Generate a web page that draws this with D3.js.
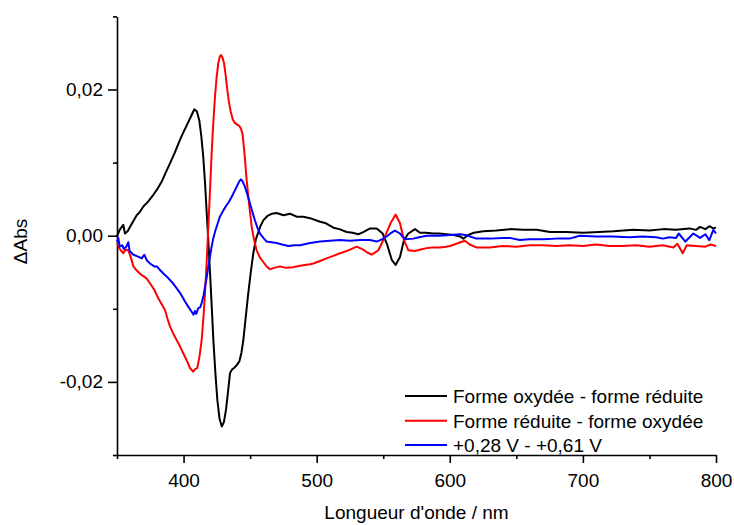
<!DOCTYPE html>
<html>
<head>
<meta charset="utf-8">
<script src="https://cdn.jsdelivr.net/npm/d3@7/dist/d3.min.js"></script>
<style>
  html, body { margin: 0; padding: 0; background: #fff; }
  svg { display: block; font-family: "Liberation Sans", Arial, sans-serif; }
</style>
</head>
<body>
<svg id="chart" width="734" height="525"></svg>
<script>
// ---------- DATA ----------
const seriesNames = ["Forme oxydée - forme réduite", "Forme réduite - forme oxydée", "+0,28 V - +0,61 V"];
const seriesColors = ["#000000", "#ff0000", "#0000ff"];

const blackNm = [350,352,354.7,356,358,361,364.8,367,369.8,373,377.3,380,383.6,386.5,389.8,393.5,397.3,400,402.4,405,408.1,410,411.8,413.3,414.8,416.2,417.4,418.7,419.9,421.2,422.4,424,425.4,427,428.7,430.3,431.9,433.5,434.9,436.4,437.9,440,441.9,443.5,444.9,446.8,448.6,450.5,452.4,454.3,456.2,458,459.9,463,466.2,470,475,480,485,490,495,502.6,507,512.6,517,522.6,527,531.3,535,540.1,545.1,549.6,553.1,556.4,559.3,562.6,565.6,568.9,573.9,577.6,582,587.6,592,597.6,603,607.7,610.2,614,618,625.3,635,645.3,655,665.3,675.3,687.8,700.3,712,722.9,737.9,750,760.5,770,780,785,788,792,795,798,800];
const blackVal = [-0.0001,0.0008,0.0015,0.0003,0.0006,0.0016,0.0028,0.0032,0.0040,0.0046,0.0056,0.0063,0.0074,0.0086,0.0099,0.0114,0.0131,0.0142,0.0151,0.0161,0.0173,0.0170,0.0158,0.0137,0.0108,0.0070,0.0031,-0.0010,-0.0051,-0.0098,-0.0143,-0.0190,-0.0225,-0.0250,-0.0261,-0.0255,-0.0238,-0.0212,-0.0188,-0.0183,-0.0181,-0.0177,-0.0172,-0.0160,-0.0143,-0.0110,-0.0079,-0.0050,-0.0024,-0.0005,0.0005,0.0014,0.0021,0.0027,0.0030,0.0031,0.0028,0.0030,0.0026,0.0026,0.0024,0.0019,0.0017,0.0011,0.0009,0.0005,0.0004,0.0002,0.0005,0.0010,0.0010,0.0003,-0.0013,-0.0033,-0.0040,-0.0029,-0.0006,0.0003,0.0009,0.0004,0.0004,0.0003,0.0003,0.0002,0.0001,-0.0001,-0.0004,0.0001,0.0004,0.0006,0.0007,0.0009,0.0008,0.0008,0.0005,0.0005,0.0004,0.0005,0.0006,0.0008,0.0007,0.0009,0.0008,0.0010,0.0008,0.0012,0.0009,0.0013,0.0010,0.0011];

const redNm = [350,352,354.7,356.5,358.5,360.5,362.3,365,368.6,372,374.8,378,381.1,384,386.1,388,389.8,392,394.9,397.5,399.8,402.5,404.8,407.3,408.5,410.3,412,413.6,415,416.1,417.4,418.6,419.9,421.1,422.3,423.6,424.8,426.1,427.2,428.1,429.2,430.4,431.6,432.9,434.1,435.4,437,438.7,440.3,441.9,443.2,444.4,445.9,447.4,449.3,451.2,453,454.9,457.4,459.9,462.4,464.9,468,472.4,477,482.4,487.5,491,495,497.5,502,507.5,512,517.5,521,525,530,535,538,541.3,546.3,548.5,551.3,555.5,559.3,562.6,565.6,568.9,573.9,578,582.6,587,592.6,597,600.2,605,608,611.4,615,619.9,630,640,650,660,670,680,690,700,710,720,730,740,750,760,768,771,775,778,785,792,796,800];
const redVal = [-0.0010,-0.0018,-0.0024,-0.0019,-0.0020,-0.0030,-0.0042,-0.0048,-0.0054,-0.0058,-0.0065,-0.0074,-0.0086,-0.0095,-0.0102,-0.0114,-0.0124,-0.0133,-0.0143,-0.0152,-0.0161,-0.0171,-0.0181,-0.0186,-0.0183,-0.0181,-0.0165,-0.0143,-0.0110,-0.0079,-0.0035,0.0012,0.0063,0.0113,0.0153,0.0190,0.0216,0.0236,0.0245,0.0247,0.0244,0.0236,0.0220,0.0199,0.0183,0.0170,0.0159,0.0154,0.0152,0.0150,0.0146,0.0138,0.0110,0.0076,0.0042,0.0012,-0.0006,-0.0020,-0.0030,-0.0036,-0.0042,-0.0046,-0.0044,-0.0042,-0.0044,-0.0043,-0.0041,-0.0040,-0.0039,-0.0038,-0.0035,-0.0031,-0.0028,-0.0024,-0.0022,-0.0019,-0.0015,-0.0019,-0.0023,-0.0026,-0.0020,-0.0012,-0.0001,0.0017,0.0029,0.0017,-0.0006,-0.0020,-0.0021,-0.0019,-0.0017,-0.0016,-0.0016,-0.0015,-0.0014,-0.0011,-0.0009,-0.0007,-0.0012,-0.0016,-0.0016,-0.0014,-0.0015,-0.0013,-0.0013,-0.0014,-0.0013,-0.0014,-0.0012,-0.0014,-0.0014,-0.0013,-0.0015,-0.0013,-0.0016,-0.0011,-0.0024,-0.0013,-0.0014,-0.0015,-0.0012,-0.0014];

const blueNm = [350,351,352,354,355,357,358.5,359.5,362.3,365,368.6,370.5,372.5,374.8,378,380,382.3,385,388.5,391.5,394.9,398,401.1,403.5,406.1,407.5,408.6,409.5,411.1,412.5,413.6,415,416.1,417.4,418.6,419.9,421.1,422.3,423.6,425.5,427.3,430,432.4,434,436.1,438,439.9,441.5,442.9,444.2,446.1,448,449.9,451.8,453.6,455.5,457.4,460,462.4,466,469.9,474,478.7,483,487.5,495,502.6,510,517.5,525,532.6,540,545.1,549,552.6,556,558.8,562.6,566.3,572.6,577,582.6,592.6,600.2,607.7,612,619.9,630,640,645,652.6,660,670,680,690,697.8,710,722,735,745,755,760,765,770,772,777,783,788,792,795,798,800];
const blueVal = [-0.0008,-0.0003,-0.0015,-0.0013,-0.0018,-0.0015,-0.0009,-0.0021,-0.0026,-0.0028,-0.0031,-0.0026,-0.0034,-0.0038,-0.0042,-0.0042,-0.0047,-0.0052,-0.0058,-0.0064,-0.0072,-0.0080,-0.0090,-0.0097,-0.0104,-0.0108,-0.0103,-0.0107,-0.0099,-0.0098,-0.0092,-0.0082,-0.0070,-0.0057,-0.0042,-0.0028,-0.0015,-0.0004,0.0005,0.0016,0.0026,0.0035,0.0042,0.0046,0.0053,0.0060,0.0067,0.0073,0.0077,0.0075,0.0067,0.0056,0.0044,0.0032,0.0021,0.0011,0.0003,-0.0003,-0.0008,-0.0009,-0.0010,-0.0012,-0.0014,-0.0013,-0.0013,-0.0010,-0.0008,-0.0007,-0.0006,-0.0007,-0.0006,-0.0006,-0.0008,-0.0005,-0.0001,0.0004,0.0007,0.0003,-0.0005,-0.0004,-0.0002,0.0000,0.0000,0.0001,0.0002,0.0001,-0.0004,-0.0004,-0.0003,-0.0003,-0.0006,-0.0005,-0.0005,-0.0004,-0.0004,0.0000,-0.0001,-0.0001,-0.0002,-0.0001,-0.0002,-0.0004,-0.0002,-0.0003,0.0003,-0.0008,0.0003,-0.0003,0.0002,-0.0006,0.0008,0.0003];

const xMajorTicks = [400, 500, 600, 700, 800];
const xMinorTicks = [350, 450, 550, 650, 750];
const yMajorTicks = [-0.02, 0.00, 0.02];
const yMinorTicks = [-0.03, -0.01, 0.01, 0.03];
const xTitle = "Longueur d'onde / nm";
const yTitle = "ΔAbs";

// ---------- LAYOUT ----------
const W = 734, H = 525;
const margin = {left: 117, right: 18, top: 16.4, bottom: 70};
const svg = d3.select("#chart");

const x = d3.scaleLinear().domain([350, 800]).range([margin.left, W - margin.right]);
const y = d3.scaleLinear().domain([-0.03, 0.03]).range([H - margin.bottom, margin.top]);

const fmt = d => (d < 0 ? "-" : "") + Math.abs(d).toFixed(2).replace(".", ",");

// Y axis
const yMinor = svg.append("g").attr("transform", `translate(${margin.left},0)`)
  .call(d3.axisLeft(y).tickValues(yMinorTicks).tickSize(4).tickSizeOuter(0).tickFormat(""));
yMinor.select(".domain").remove();
const yAx = svg.append("g").attr("transform", `translate(${margin.left},0)`)
  .call(d3.axisLeft(y).tickValues(yMajorTicks).tickSize(9).tickSizeOuter(0).tickPadding(5).tickFormat(fmt));

// X axis
const xMinor = svg.append("g").attr("transform", `translate(0,${H - margin.bottom})`)
  .call(d3.axisBottom(x).tickValues(xMinorTicks).tickSize(4).tickSizeOuter(0).tickFormat(""));
xMinor.select(".domain").remove();
const xAx = svg.append("g").attr("transform", `translate(0,${H - margin.bottom})`)
  .call(d3.axisBottom(x).tickValues(xMajorTicks).tickSize(8).tickSizeOuter(0).tickPadding(11).tickFormat(d => d));

svg.selectAll(".domain").attr("stroke", "#000").attr("stroke-width", 1.6);
svg.selectAll(".tick line").attr("stroke", "#000").attr("stroke-width", 1.6);
svg.selectAll(".tick text").attr("font-size", 19).attr("fill", "#000")
  .attr("font-family", "'Liberation Sans', Arial, sans-serif");

// Titles
svg.append("text").attr("x", (x.range()[0] + x.range()[1]) / 2).attr("y", 519)
  .attr("text-anchor", "middle").attr("font-size", 19).text(xTitle);
svg.append("text").attr("transform", "translate(26.5,241.5) rotate(-90)")
  .attr("text-anchor", "middle").attr("font-size", 19).text(yTitle);

// Curves
const line = d3.line().x(d => x(d[0])).y(d => y(d[1]));
const series = [
  d3.zip(blackNm, blackVal),
  d3.zip(redNm, redVal),
  d3.zip(blueNm, blueVal)
];
const g = svg.append("g");
// draw black first, then red, then blue (blue on top like reference)
series.forEach((s, i) => {
  g.append("path").datum(s).attr("d", line).attr("fill", "none")
    .attr("stroke", seriesColors[i]).attr("stroke-width", 2).attr("stroke-linejoin", "round");
});

// Legend
const legendY = [396, 420.7, 445];
seriesNames.forEach((name, i) => {
  svg.append("line").attr("x1", 405).attr("x2", 447).attr("y1", legendY[i]).attr("y2", legendY[i])
    .attr("stroke", seriesColors[i]).attr("stroke-width", 2);
  svg.append("text").attr("x", 453).attr("y", legendY[i] + 7).attr("font-size", 19).text(name);
});
</script>
</body>
</html>
